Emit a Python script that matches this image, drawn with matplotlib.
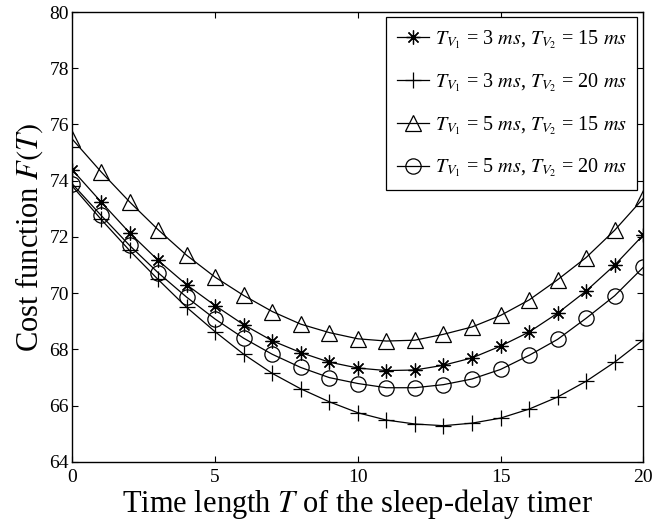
import numpy as np
import matplotlib
matplotlib.use("Agg")
import matplotlib.pyplot as plt

plt.rcParams['font.family'] = ['Liberation Serif', 'DejaVu Serif']
plt.rcParams['mathtext.fontset'] = 'stix'

# Time length T (integer points)
T = np.arange(0, 21)

# Cost function F(T)
f_3_15 = [74.38, 73.25, 72.15, 71.17, 70.30, 69.56, 68.88, 68.31, 67.89, 67.55, 67.34,
          67.25, 67.27, 67.44, 67.70, 68.12, 68.62, 69.29, 70.08, 71.00, 72.07]
f_3_20 = [73.80, 72.63, 71.52, 70.49, 69.50, 68.63, 67.83, 67.15, 66.60, 66.14, 65.75,
          65.49, 65.35, 65.29, 65.38, 65.56, 65.88, 66.31, 66.87, 67.55, 68.34]
f_5_15 = [75.47, 74.32, 73.25, 72.26, 71.35, 70.57, 69.92, 69.35, 68.90, 68.60, 68.38,
          68.30, 68.33, 68.54, 68.80, 69.21, 69.76, 70.48, 71.27, 72.24, 73.37]
f_5_20 = [73.88, 72.77, 71.70, 70.73, 69.86, 69.08, 68.40, 67.83, 67.36, 67.00, 66.79,
          66.64, 66.64, 66.75, 66.95, 67.29, 67.79, 68.36, 69.11, 69.91, 70.92]

labels = [r'$T_{V_1}$ = 3 $ms$, $T_{V_2}$ = 15 $ms$',
          r'$T_{V_1}$ = 3 $ms$, $T_{V_2}$ = 20 $ms$',
          r'$T_{V_1}$ = 5 $ms$, $T_{V_2}$ = 15 $ms$',
          r'$T_{V_1}$ = 5 $ms$, $T_{V_2}$ = 20 $ms$']

fig = plt.figure(figsize=(6.53, 5.22), dpi=100)
ax = fig.add_axes([0.111, 0.115, 0.874, 0.862])

lw = 0.9
ax.plot(T, f_3_15, color='k', lw=lw, marker=(8, 2, 0), ms=10, mew=0.9,
        label=labels[0])
ax.plot(T, f_3_20, color='k', lw=lw, marker='+', ms=11, mew=0.9,
        label=labels[1])
ax.plot(T, f_5_15, color='k', lw=lw, marker='^', ms=12, mew=0.9,
        mfc='none', label=labels[2])
ax.plot(T, f_5_20, color='k', lw=lw, marker='o', ms=11, mew=0.9,
        mfc='none', label=labels[3])

ax.set_xlim(0, 20)
ax.set_ylim(64, 80)
ax.set_xticks([0, 5, 10, 15, 20])
ax.set_yticks(np.arange(64, 81, 2))
ax.tick_params(direction='in', top=True, right=True, length=4, width=0.8,
               labelsize=14)
ax.tick_params(axis='x', pad=5)
ax.tick_params(axis='y', pad=2.5)
for s in ax.spines.values():
    s.set_linewidth(1.0)

ax.set_xlabel(r'Time length $T$ of the sleep-delay timer', fontsize=22, labelpad=1)
ax.set_ylabel(r'Cost function $F(T)$', fontsize=22, labelpad=3)

leg = ax.legend(loc='upper right', bbox_to_anchor=(0.99, 0.988), fontsize=14.5,
                fancybox=False, framealpha=1, edgecolor='k', handlelength=1.6,
                handletextpad=0.25, labelspacing=1.0, borderpad=0.55,
                borderaxespad=0)
leg.get_frame().set_linewidth(0.9)

fig.savefig('out.png', dpi=100)
